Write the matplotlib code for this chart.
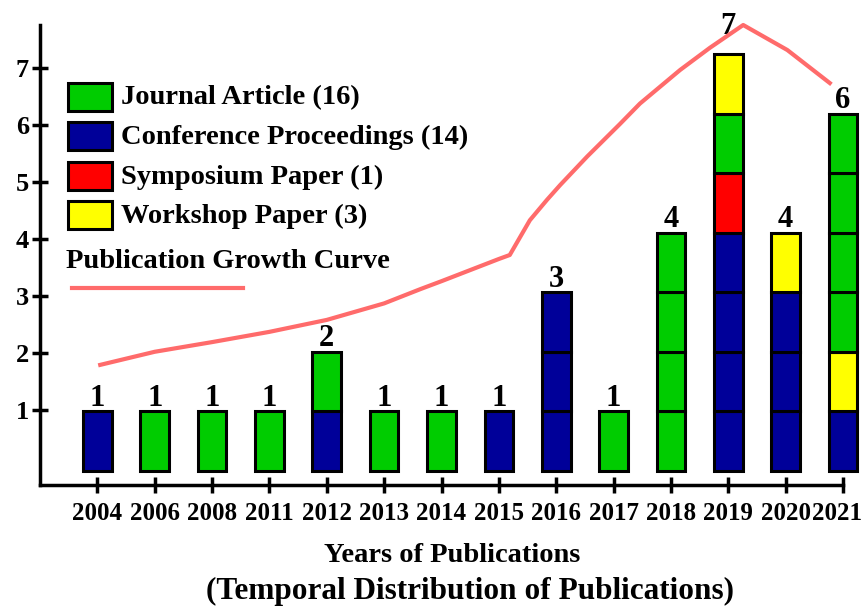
import matplotlib
matplotlib.use("Agg")
import matplotlib.pyplot as plt
import matplotlib.transforms as mtransforms
from matplotlib.patches import Rectangle
from matplotlib.lines import Line2D

plt.rcParams['font.family'] = ['Liberation Serif', 'DejaVu Serif']
plt.rcParams['font.weight'] = 'bold'

years = ['2004', '2006', '2008', '2011', '2012', '2013', '2014',
         '2015', '2016', '2017', '2018', '2019', '2020', '2021']

# publication types per year, bottom to top
# J = journal, C = conference, S = symposium, W = workshop
stacks = [
    ['C'], ['J'], ['J'], ['J'], ['C', 'J'], ['J'], ['J'], ['C'],
    ['C', 'C', 'C'], ['J'], ['J', 'J', 'J', 'J'],
    ['C', 'C', 'C', 'C', 'S', 'J', 'W'],
    ['C', 'C', 'C', 'W'],
    ['C', 'W', 'J', 'J', 'J', 'J'],
]

type_names = {'J': 'Journal Article', 'C': 'Conference Proceedings',
              'S': 'Symposium Paper', 'W': 'Workshop Paper'}
type_order = ['J', 'C', 'S', 'W']
colors = {'J': '#00CC00', 'C': '#000099', 'S': '#FF0000', 'W': '#FFFF00'}

# growth curve (x in year-index units)
curve_x = [0.05, 1, 2, 3, 4, 5, 5.63, 6, 7, 7.19, 7.54, 7.84, 8.07, 8.54,
           9.11, 9.46, 10.16, 10.68, 11.26, 12.03, 12.77]
curve_y = [1.79, 2.02, 2.19, 2.37, 2.58, 2.87, 3.12, 3.26, 3.65, 3.72, 4.33,
           4.69, 4.95, 5.45, 6.02, 6.38, 6.97, 7.36, 7.76, 7.32, 6.74]

W, H = 864, 610
fig = plt.figure(figsize=(W / 100, H / 100), dpi=100)
ax = fig.add_axes([40 / W, 1 - 485 / H, (843 - 40) / W, (485 - 25) / H])

unit = 1.045
base = -0.07
for i, stack in enumerate(stacks):
    for k, t in enumerate(stack):
        ax.bar(i, unit, bottom=base + k * unit, width=0.5, color=colors[t],
               edgecolor='black', linewidth=2.2, clip_on=False, zorder=3)
    top = base + len(stack) * unit
    pad = 0.36 if i == 11 else 0.1
    ax.text(i, top + pad, str(len(stack)), ha='center', va='baseline',
            fontsize=22, fontweight='bold', zorder=4)

ax.plot(curve_x, curve_y, color='#FF6B6B', lw=3, clip_on=False, zorder=5,
        solid_joinstyle='round')

ax.set_xlim(-1, 13)
ax.set_ylim(-0.32, 7.76)
ax.set_xticks(range(len(years)))
ax.set_xticklabels(years, fontsize=18, fontweight='bold')
ax.set_yticks(range(1, 8))
ax.set_yticklabels([str(v) for v in range(1, 8)], fontsize=19, fontweight='bold')
ax.tick_params(axis='both', direction='inout', length=12, width=2.5)
ax.tick_params(axis='x', pad=6)
ax.tick_params(axis='y', pad=2)
for s in ['top', 'right']:
    ax.spines[s].set_visible(False)
for s in ['left', 'bottom']:
    ax.spines[s].set_linewidth(2.5)

# keep the last year label inside the figure
last = ax.get_xticklabels()[-1]
last.set_transform(last.get_transform() +
                   mtransforms.ScaledTranslation(-6 / 100, 0, fig.dpi_scale_trans))

# manual legend
def fx(px):
    return px / W

def fy(py):
    return 1 - py / H

counts = {t: sum(s.count(t) for s in stacks) for t in type_order}
leg_y = [97, 136, 176, 215]
for t, yc in zip(type_order, leg_y):
    fig.add_artist(Rectangle((fx(68), fy(yc + 14)), 44 / W, 28 / H,
                             transform=fig.transFigure, facecolor=colors[t],
                             edgecolor='black', linewidth=2.2))
    fig.text(fx(121), fy(yc + 1), f'{type_names[t]} ({counts[t]})', ha='left',
             va='center', fontsize=20.5, fontweight='bold')

fig.text(fx(66), fy(262), 'Publication Growth Curve', ha='left', va='center',
         fontsize=20.5, fontweight='bold')
fig.add_artist(Line2D([fx(72), fx(243)], [fy(288), fy(288)],
                      transform=fig.transFigure, color='#FF6B6B', lw=3))

fig.text(fx(452), fy(555), 'Years of Publications', ha='center', va='center',
         fontsize=20.5, fontweight='bold')
fig.text(fx(470), fy(591), '(Temporal Distribution of Publications)',
         ha='center', va='center', fontsize=22.5, fontweight='bold')

fig.savefig('out.png', dpi=100)
